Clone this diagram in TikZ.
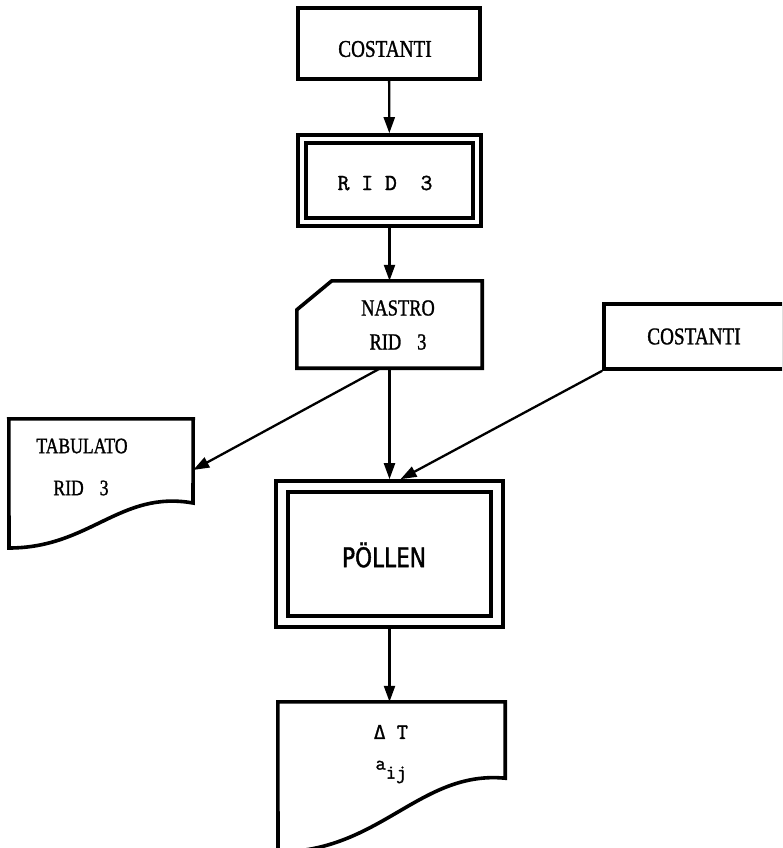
\documentclass[tikz,border=0pt]{standalone}
\usepackage{fontspec}
\setmainfont{Liberation Serif}
\newfontfamily\cond[FakeStretch=0.8,FakeBold=1.2]{Liberation Serif}
\newfontfamily\plotfont[FakeStretch=0.8,FakeBold=1.5]{DejaVu Sans}
\newfontfamily\tw[FakeBold=1.5]{Latin Modern Mono}
\newfontfamily\dvm[FakeBold=1]{DejaVu Sans Mono}
\usetikzlibrary{arrows.meta,calc}
\begin{document}
\begin{tikzpicture}[x=1pt,y=-1pt,
  frame/.style={draw, line width=3.6pt, inner sep=0pt},
  ghost/.style={inner sep=0pt},
  outline/.style={draw, line width=3.6pt, line join=miter},
  conn/.style={line width=2.3pt, -{Triangle[length=16pt,width=11pt]}},
  lbl/.style={inner sep=0pt},
  condfont/.style={font=\cond\fontsize{#1}{#1}\selectfont},
  ttf/.style={font=\tw\fontsize{#1}{#1}\selectfont}]
\useasboundingbox (0,0) rectangle (782,848);
\clip (0,0) rectangle (782,848);

% top COSTANTI
\node[frame, minimum width=182pt, minimum height=71pt] (c1) at (389,43.5) {};
\node[lbl, condfont=24] (c1t) at (385,49) {COSTANTI};

% RID 3 double box
\node[frame, minimum width=183pt, minimum height=91pt] (r) at (389.5,180.5) {};
\node[frame, minimum width=167pt, minimum height=75pt] (rin) at (r.center) {};
\node[lbl, ttf=23] (rt) at (385,183) {R I D\ \ 3};

% NASTRO tape
\node[ghost, minimum width=185pt, minimum height=87pt] (n) at (389.5,324.5) {};
\draw[outline] ($(n.north west)+(0,29)$) -- ($(n.north west)+(35,0)$) -- (n.north east) -- (n.south east) -- (n.south west) -- cycle;
\node[lbl, condfont=23] (nt1) at (398,308) {NASTRO};
\node[lbl, condfont=23] (nt2) at (398,342) {RID\hspace{16pt}3};

% TABULATO document
\node[ghost, minimum width=184pt, minimum height=102pt] (t) at (101,470) {};
\draw[outline] (t.north west) -- (t.north east) -- (193,503) .. controls (120,490) and (90,548) .. (9,548) -- cycle;
\node[lbl, condfont=22] (tt1) at (82,446) {TABULATO};
\node[lbl, condfont=22] (tt2) at (81,488) {RID\hspace{16pt}3};

% right COSTANTI
\node[frame, minimum width=180pt, minimum height=65pt, condfont=24] (c2) at (694,336.5) {COSTANTI};

% POLLEN double box
\node[frame, minimum width=227pt, minimum height=146pt] (p) at (389.5,554) {};
\node[frame, minimum width=203pt, minimum height=124pt] (pin) at (p.center) {};
\node[lbl, font=\plotfont\fontsize{27}{27}\selectfont] (pt) at (384,555) {PÖLLEN};

% bottom document
\node[ghost, minimum width=227pt, minimum height=76pt] (d) at (391.5,740) {};
\draw[outline] (d.north west) -- (d.north east) -- (d.south east) .. controls (420,770) and (380,852) .. (278,852) -- cycle;
\node[lbl, ttf=22] (dt1) at (391,732) {{\dvm\fontsize{19}{19}\selectfont Δ}\ T};
\node[lbl, ttf=20] (dt2) at (391,772) {a\raisebox{-9pt}{ij}};

% connectors
\draw[conn] (c1) -- (r);
\draw[conn] (r) -- (n);
\draw[conn] (n.south) -- (p.north);
\draw[conn] ([xshift=-9pt]n.south) -- (t.east);
\draw[conn] (c2.south west) -- ([xshift=11pt]p.north);
\draw[conn] (p.south) -- (p.south |- d.north);
\end{tikzpicture}
\end{document}
